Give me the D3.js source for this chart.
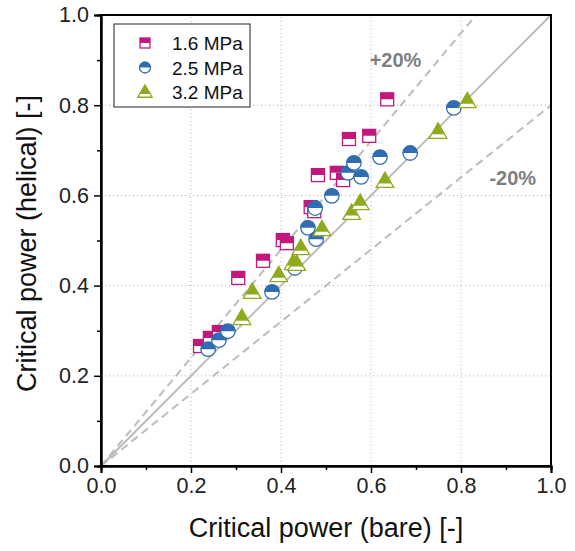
<!DOCTYPE html>
<html><head><meta charset="utf-8">
<script src="https://cdn.jsdelivr.net/npm/d3@7"></script>
<style>body{margin:0;background:#fff;}svg{display:block;font-family:"Liberation Sans",Arial,sans-serif;}</style>
</head><body><svg id="c" width="575" height="551"></svg>
<script>
const seriesNames = ["1.6 MPa", "2.5 MPa", "3.2 MPa"];
const bare16 = [0.220,0.242,0.262,0.305,0.360,0.404,0.413,0.466,0.474,0.482,0.524,0.538,0.551,0.596,0.636];
const heli16 = [0.266,0.284,0.297,0.417,0.455,0.501,0.494,0.574,0.565,0.645,0.650,0.634,0.725,0.732,0.813];
const bare25 = [0.238,0.262,0.282,0.380,0.431,0.460,0.478,0.476,0.513,0.549,0.562,0.578,0.620,0.687,0.784];
const heli25 = [0.259,0.279,0.299,0.386,0.439,0.528,0.503,0.572,0.599,0.650,0.672,0.641,0.685,0.694,0.794];
const bare32 = [0.313,0.336,0.395,0.427,0.435,0.444,0.491,0.557,0.576,0.631,0.749,0.814];
const heli32 = [0.328,0.386,0.423,0.450,0.448,0.483,0.525,0.561,0.583,0.632,0.741,0.809];
const majorTicks = [0,0.2,0.4,0.6,0.8,1.0];
const minorTicks = [0.1,0.3,0.5,0.7,0.9];
const refFactors = [1.2, 1.0, 0.8];
const refLabels = ["+20%", "-20%"];
const xTitle = "Critical power (bare) [-]";
const yTitle = "Critical power (helical) [-]";
const colors = ["#c2187b", "#2f6cb1", "#8dab1c"];

const svg = d3.select("#c");
const L=101, R=551, T=15, B=466;
const x = d3.scaleLinear().domain([0,1]).range([L,R]);
const y = d3.scaleLinear().domain([0,1]).range([B,T]);

// grid
const g = svg.append("g");
[0.2,0.4,0.6,0.8].forEach(v=>{
  g.append("line").attr("x1",x(v)).attr("x2",x(v)).attr("y1",y(0)).attr("y2",y(1))
   .attr("stroke","#b0b0b0").attr("stroke-width",1).attr("stroke-dasharray","1,3");
  g.append("line").attr("y1",y(v)).attr("y2",y(v)).attr("x1",x(0)).attr("x2",x(1))
   .attr("stroke","#b0b0b0").attr("stroke-width",1).attr("stroke-dasharray","1,3");
});

// reference lines
const defs = svg.append("defs");
defs.append("clipPath").attr("id","plotclip").append("rect").attr("x",L).attr("y",T).attr("width",R-L).attr("height",B-T);
const refG = svg.append("g").attr("clip-path","url(#plotclip)");
refFactors.forEach(f=>{
  const xe = Math.min(1, 1/f);
  refG.append("line").attr("x1",x(0)).attr("y1",y(0)).attr("x2",x(xe)).attr("y2",y(xe*f))
    .attr("stroke","#bcbcbc").attr("stroke-width",2)
    .attr("stroke-dasharray", f===1 ? null : "8,5");
});
svg.append("text").attr("x",x(0.597)).attr("y",y(0.885)).text(refLabels[0])
  .attr("font-size",20).attr("font-weight","bold").attr("fill","#7f7f7f");
svg.append("text").attr("x",x(0.915)).attr("y",y(0.622)).text(refLabels[1])
  .attr("font-size",20).attr("font-weight","bold").attr("fill","#7f7f7f").attr("text-anchor","middle");

// markers
let clipId = 0;
function marker(parent, type, cx, cy, s, color){
  const id = "m"+(clipId++);
  let shape;
  if(type===0){ shape = p=>p.append("rect").attr("x",cx-s/2).attr("y",cy-s/2).attr("width",s).attr("height",s); }
  else if(type===1){ shape = p=>p.append("circle").attr("cx",cx).attr("cy",cy).attr("r",s/2); }
  else { const h=s*0.9, w=s*1.1; shape = p=>p.append("path").attr("d",`M${cx},${cy-h*0.62}L${cx+w/2},${cy+h*0.45}L${cx-w/2},${cy+h*0.45}Z`); }
  const cut = type===2 ? cy + s*0.16 : cy;
  defs.append("clipPath").attr("id",id).append("rect").attr("x",cx-s).attr("y",cy-s).attr("width",2*s).attr("height",cut-(cy-s));
  shape(parent).attr("fill","#fff").attr("stroke","none");
  shape(parent).attr("fill",color).attr("clip-path",`url(#${id})`);
  shape(parent).attr("fill","none").attr("stroke",color).attr("stroke-width",1.3);
}
const data = [[bare16,heli16],[bare25,heli25],[bare32,heli32]];
const sizes = [13,14.5,16];
const pts = svg.append("g");
data.forEach((d,i)=>{
  d[0].forEach((bx,j)=>marker(pts, i, x(bx), y(d[1][j]), sizes[i], colors[i]));
});

// frame
svg.append("rect").attr("x",L).attr("y",T).attr("width",R-L).attr("height",B-T)
  .attr("fill","none").attr("stroke","#000").attr("stroke-width",2);

// axes
const xAxis = svg.append("g").attr("transform",`translate(0,${B})`);
xAxis.call(d3.axisBottom(x).tickValues(majorTicks).tickFormat(d3.format(".1f")).tickSize(7).tickPadding(5));
const xMinor = svg.append("g").attr("transform",`translate(0,${B})`);
xMinor.call(d3.axisBottom(x).tickValues(minorTicks).tickFormat("").tickSize(4));
const yAxis = svg.append("g").attr("transform",`translate(${L},0)`);
yAxis.call(d3.axisLeft(y).tickValues(majorTicks).tickFormat(d3.format(".1f")).tickSize(7).tickPadding(5));
const yMinor = svg.append("g").attr("transform",`translate(${L},0)`);
yMinor.call(d3.axisLeft(y).tickValues(minorTicks).tickFormat("").tickSize(4));
[xAxis,xMinor,yAxis,yMinor].forEach(a=>{
  a.select(".domain").attr("stroke","#000").attr("stroke-width",2);
  a.selectAll(".tick line").attr("stroke","#000").attr("stroke-width",1.5);
  a.selectAll("text").attr("font-size",21.5).attr("fill","#222").attr("font-family","'Liberation Sans',Arial,sans-serif");
});

// titles
svg.append("text").attr("x",(L+R)/2).attr("y",537).attr("text-anchor","middle")
  .attr("font-size",27).attr("fill","#111").text(xTitle);
svg.append("text").attr("transform",`translate(36,${(T+B)/2 + 3}) rotate(-90)`).attr("text-anchor","middle")
  .attr("font-size",27).attr("fill","#111").text(yTitle);

// legend
const lg = svg.append("g");
lg.append("rect").attr("x",114).attr("y",24).attr("width",136).attr("height",83)
  .attr("fill","#fff").attr("stroke","#222").attr("stroke-width",1);
seriesNames.forEach((n,i)=>{
  const ly = 43 + i*24.5;
  marker(lg, i, 145, ly, [10,11,13][i], colors[i]);
  lg.append("text").attr("x",172).attr("y",ly+7).attr("font-size",19).attr("fill","#111").text(n);
});
</script></body></html>
